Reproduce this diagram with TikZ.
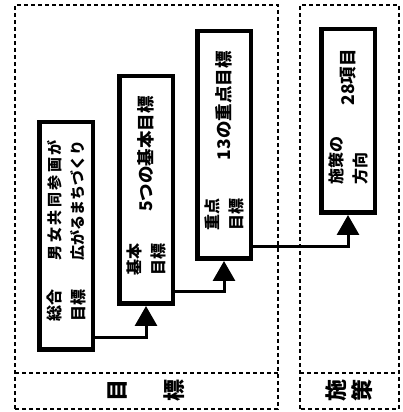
\documentclass[tikz,border=0pt]{standalone}
\usepackage{fontspec}
\newfontfamily\jp{Noto Sans CJK JP}
\usepackage{tikz}
\usetikzlibrary{positioning,calc,arrows.meta}

\begin{document}
\begin{tikzpicture}[x=1pt,y=1pt]

\tikzstyle{goalbox}=[draw, line width=4.5pt, minimum width=53.5pt, minimum height=227.5pt, inner sep=0pt]
\tikzstyle{frame}=[line width=1.4pt, dash pattern=on 4pt off 3pt]
\tikzstyle{tag}=[rotate=90, anchor=west, align=left, inner sep=0pt, font=\jp\bfseries\fontsize{16}{24}\selectfont]
\tikzstyle{body}=[rotate=90, anchor=east, align=left, inner sep=0pt, font=\jp\bfseries\fontsize{17.5}{24}\selectfont]
\tikzstyle{link}=[line width=3pt, -{Triangle[width=22pt, length=20pt]}]

\useasboundingbox (0,0) rectangle (403,412);

% frames %
\draw[frame] (15,3) rectangle (278,407);
\draw[frame] (15,39) -- (278,39);
\draw[frame] (300,3) rectangle (399,407);
\draw[frame] (300,39) -- (399,39);

% boxes %
\node[goalbox] (sogo) at (66,176) {};
\node[goalbox, above right=46pt and 22pt of sogo.south east] (kihon) {};
\node[goalbox, above right=45pt and 20pt of kihon.south east] (juten) {};
\node[goalbox, minimum height=183.5pt, above right=46pt and 66pt of juten.south east] (hoko) {};

% box texts %
\node[tag] (sogo-tag) at ($(sogo.south)+(0,30)$) {総合\\目標};
\node[body, font=\jp\bfseries\fontsize{15}{23}\selectfont] (sogo-txt) at ($(sogo.north)+(0,-20)$)
  {\makebox[8em][s]{男\hfil 女\hfil 共\hfil 同\hfil 参\hfil 画\hfil が}\\広がるまちづくり};
\node[tag] (kihon-tag) at ($(kihon.south)+(0,30)$) {基本\\目標};
\node[body] (kihon-txt) at ($(kihon.north)+(0,-22)$) {5つの基本目標};
\node[tag] (juten-tag) at ($(juten.south)+(0,30)$) {重点\\目標};
\node[body] (juten-txt) at ($(juten.north)+(0,-22)$) {13の重点目標};
\node[tag] (hoko-tag) at ($(hoko.south)+(0,30)$) {施策の\\方向};
\node[body] (hoko-txt) at ($(hoko.north)+(0,-22)$) {28項目};

% edges %
\draw[link] ([yshift=14pt]sogo.south east) -| (kihon.south);
\draw[link] ([yshift=14pt]kihon.south east) -| (juten.south);
\draw[link] ([yshift=14pt]juten.south east) -| (hoko.south);

% frame labels %
\node[rotate=90, align=center, font=\jp\bfseries\fontsize{22}{57}\selectfont] (mokuhyo) at (146.5,21) {目\\標};
\node[rotate=90, align=center, font=\jp\bfseries\fontsize{22}{26}\selectfont] (shisaku) at (349,21) {施\\策};

\end{tikzpicture}
\end{document}
